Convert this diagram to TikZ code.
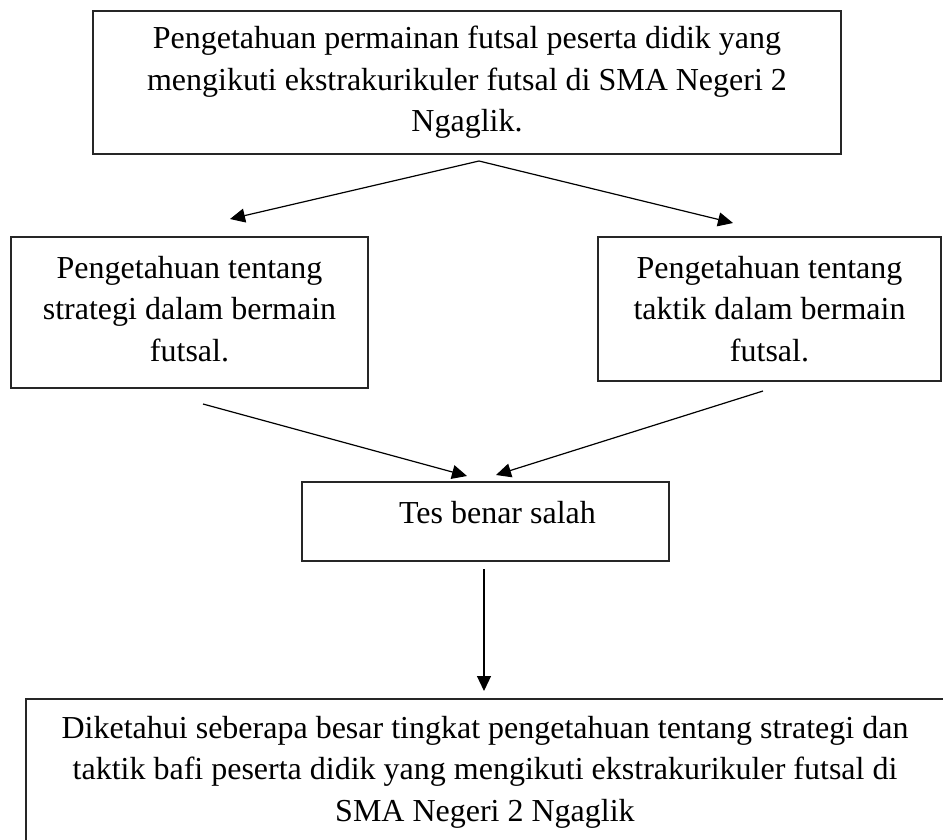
\documentclass[tikz,border=0pt]{standalone}
\usepackage{fontspec}
\setmainfont{Liberation Serif}
\usetikzlibrary{arrows.meta}
\tikzset{
  boxnode/.style={draw=black!85, line width=1.3pt, rectangle, inner sep=0pt, align=center,
    font={\fontsize{32}{41.5}\selectfont}},
  flowarrow/.style={draw=black, line width=1.2pt, -{Triangle[length=15pt,width=14pt]}}
}
\begin{document}
\begin{tikzpicture}[x=1pt,y=-1pt]
\useasboundingbox (0,0) rectangle (943,839);
\clip (0,0) rectangle (943,839);
\fill[white] (0,0) rectangle (943,839);

\node[boxnode, minimum width=748pt, minimum height=143pt] (top) at (467,82.5)
  {Pengetahuan permainan futsal peserta didik yang\\mengikuti ekstrakurikuler futsal di SMA Negeri 2\\Ngaglik.};
\node[boxnode, minimum width=357pt, minimum height=151pt, text depth=8pt] (left) at (189.5,312.5)
  {Pengetahuan tentang\\strategi dalam bermain\\futsal.};
\node[boxnode, minimum width=343pt, minimum height=144pt] (right) at (769.5,309)
  {Pengetahuan tentang\\taktik dalam bermain\\futsal.};
\node[boxnode, minimum width=367pt, minimum height=79pt, text depth=18pt] (test) at (485.5,521.5)
  {\hspace*{24pt}Tes benar salah};
\node[boxnode, minimum width=918pt, minimum height=146pt] (result) at (485,772)
  {Diketahui seberapa besar tingkat pengetahuan tentang strategi dan\\taktik bafi peserta didik yang mengikuti ekstrakurikuler futsal di\\SMA Negeri 2 Ngaglik};

\coordinate (apex) at (479,161);
\coordinate (leftin) at (230,219);
\coordinate (rightin) at (733,223);
\coordinate (leftout) at (203,404);
\coordinate (rightout) at (763,391);
\coordinate (testinL) at (467,476);
\coordinate (testinR) at (496,475);
\coordinate (testout) at (484,569);
\coordinate (resultin) at (484,691);

\draw[flowarrow] (apex) -- (leftin);
\draw[flowarrow] (apex) -- (rightin);
\draw[flowarrow] (leftout) -- (testinL);
\draw[flowarrow] (rightout) -- (testinR);
\draw[flowarrow] (testout) -- (resultin);
\end{tikzpicture}
\end{document}
